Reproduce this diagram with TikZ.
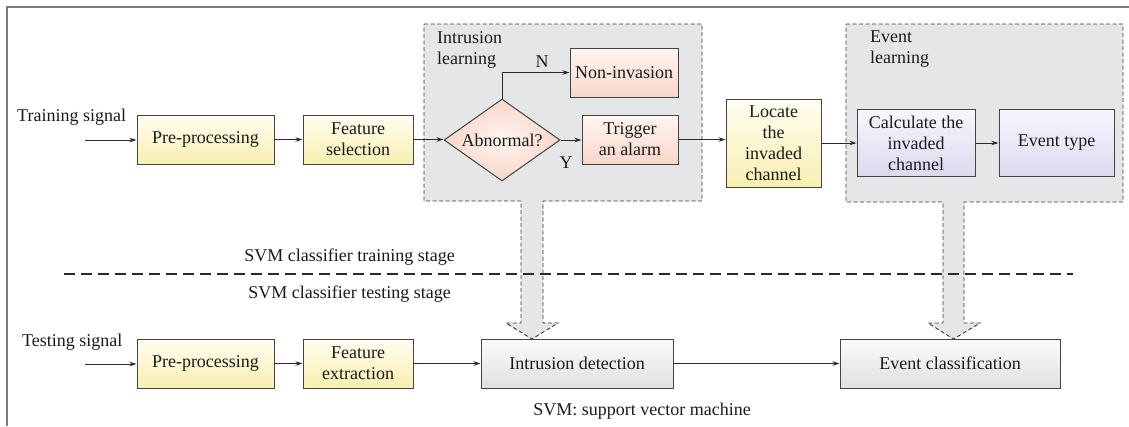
\documentclass[tikz,border=0pt]{standalone}
\usepackage{fontspec}
\setmainfont{Liberation Serif}
\usetikzlibrary{shapes.geometric,arrows.meta}

\definecolor{framegray}{HTML}{7C7C7C}
\definecolor{edgegray}{HTML}{444444}
\definecolor{dashgray}{HTML}{3A3A3A}
\definecolor{linegray}{HTML}{2A2A2A}
\definecolor{textgray}{HTML}{1A1A1A}
\definecolor{contfill}{HTML}{E5E6E8}
\definecolor{ylwtop}{HTML}{FFFEF2}
\definecolor{ylwbot}{HTML}{F9EFB0}
\definecolor{pnktop}{HTML}{FFF6F2}
\definecolor{pnkbot}{HTML}{F8D6C8}
\definecolor{lavtop}{HTML}{F7F7FF}
\definecolor{lavbot}{HTML}{DADAEE}
\definecolor{grytop}{HTML}{FBFBFB}
\definecolor{grybot}{HTML}{E0E0E0}

\begin{document}
\begin{tikzpicture}[x=1pt,y=-1pt,
  font=\rmfamily\fontsize{18}{21}\selectfont, text=textgray,
  box/.style={draw=edgegray, line width=1pt, inner sep=0pt, align=center},
  ylw/.style={box, top color=ylwtop, bottom color=ylwbot},
  pnk/.style={box, top color=pnktop, bottom color=pnkbot},
  lav/.style={box, top color=lavtop, bottom color=lavbot},
  gry/.style={box, top color=grytop, bottom color=grybot},
  dia/.style={diamond, draw=edgegray, line width=1pt, inner sep=0pt,
    minimum width=116pt, minimum height=82pt, aspect=1.41,
    shading=radial, inner color=pnktop, outer color=pnkbot},
  conn/.style={draw=linegray, line width=0.8pt, -{Stealth[length=7pt,width=4.5pt]}},
  cont/.style={draw=dashgray, fill=contfill, line width=0.9pt, dash pattern=on 4pt off 2.5pt},
  sep/.style={draw=linegray, line width=1.2pt, dash pattern=on 11pt off 6pt},
  lbl/.style={inner sep=0pt}]

\useasboundingbox (0,0) rectangle (1129,426);

% outer frame (top and left edges only)
\draw[framegray, line width=1.5pt] (7,426) -- (7,7) -- (1129,7);

% learning containers with their downward arrows
\path[cont] (424,24) -- (702,24) -- (702,201) -- (543,201) -- (543,323) -- (558,323)
  -- (532,339) -- (506,323) -- (521,323) -- (521,201) -- (424,201) -- cycle;
\path[cont] (846,24) -- (1123,24) -- (1123,202) -- (964,202) -- (964,323) -- (980,323)
  -- (953.5,339) -- (928,323) -- (943,323) -- (943,202) -- (846,202) -- cycle;

% stage separator
\coordinate (sepL) at (64,274);
\coordinate (sepR) at (1073,274);
\draw[sep] (sepL) -- (sepR);

% training row
\node[ylw, minimum width=137pt, minimum height=49pt] (pre1) at (205.5,139.5) {Pre-processing};
\node[ylw, minimum width=110pt, minimum height=49pt] (fsel) at (358,139.5) {Feature\\selection};
\node[dia] (abn) at (502,140) {Abnormal?};
\node[pnk, minimum width=108pt, minimum height=49pt] (noninv) at (624,72.5) {Non-invasion};
\node[pnk, minimum width=96pt, minimum height=49pt] (alarm) at (630,139.5) {Trigger\\an alarm};
\node[ylw, minimum width=95pt, minimum height=88pt] (locate) at (773.5,143) {Locate\\the\\invaded\\channel};
\node[lav, minimum width=118pt, minimum height=67pt] (calc) at (916,143) {Calculate the\\invaded\\channel};
\node[lav, minimum width=115pt, minimum height=67pt] (etype) at (1056.5,143) {Event type};

% testing row
\node[ylw, minimum width=137pt, minimum height=49pt] (pre2) at (205.5,363.5) {Pre-processing};
\node[ylw, minimum width=110pt, minimum height=49pt] (fext) at (358,363.5) {Feature\\extraction};
\node[gry, minimum width=192pt, minimum height=49pt] (idet) at (577,363.5) {Intrusion detection};
\node[gry, minimum width=220pt, minimum height=49pt] (ecls) at (950,363.5) {Event classification};

% labels
\node[lbl, anchor=west] (trainlbl) at (17,117) {Training signal};
\node[lbl, anchor=west] (testlbl) at (22,342) {Testing signal};
\node[lbl, anchor=north west, align=left] (intlbl) at (437,31) {Intrusion\\learning};
\node[lbl, anchor=north west, align=left] (evtlbl) at (870,31) {Event\\learning};
\node[lbl] (nlbl) at (542,62) {N};
\node[lbl] (ylbl) at (566,163) {Y};
\node[lbl] (trainst) at (349.5,257) {SVM classifier training stage};
\node[lbl] (testst) at (349.5,294) {SVM classifier testing stage};
\node[lbl] (note) at (642,411) {SVM: support vector machine};

% connectors
\coordinate (tsig) at (85,140);
\coordinate (tsig2) at (85,364);
\draw[conn] (tsig) -- (tsig -| pre1.west);
\draw[conn] (pre1) -- (fsel);
\draw[conn] (fsel.east) -- (fsel.east -| abn.west);
\draw[conn] (abn.north) |- (noninv.west);
\draw[conn] (abn.east) -- (abn.east -| alarm.west);
\draw[conn] (alarm.east) -- (alarm.east -| locate.west);
\draw[conn] (locate.east) -- (locate.east -| calc.west);
\draw[conn] (calc) -- (etype);
\draw[conn] (tsig2) -- (tsig2 -| pre2.west);
\draw[conn] (pre2) -- (fext);
\draw[conn] (fext) -- (idet);
\draw[conn] (idet) -- (ecls);

\end{tikzpicture}
\end{document}
